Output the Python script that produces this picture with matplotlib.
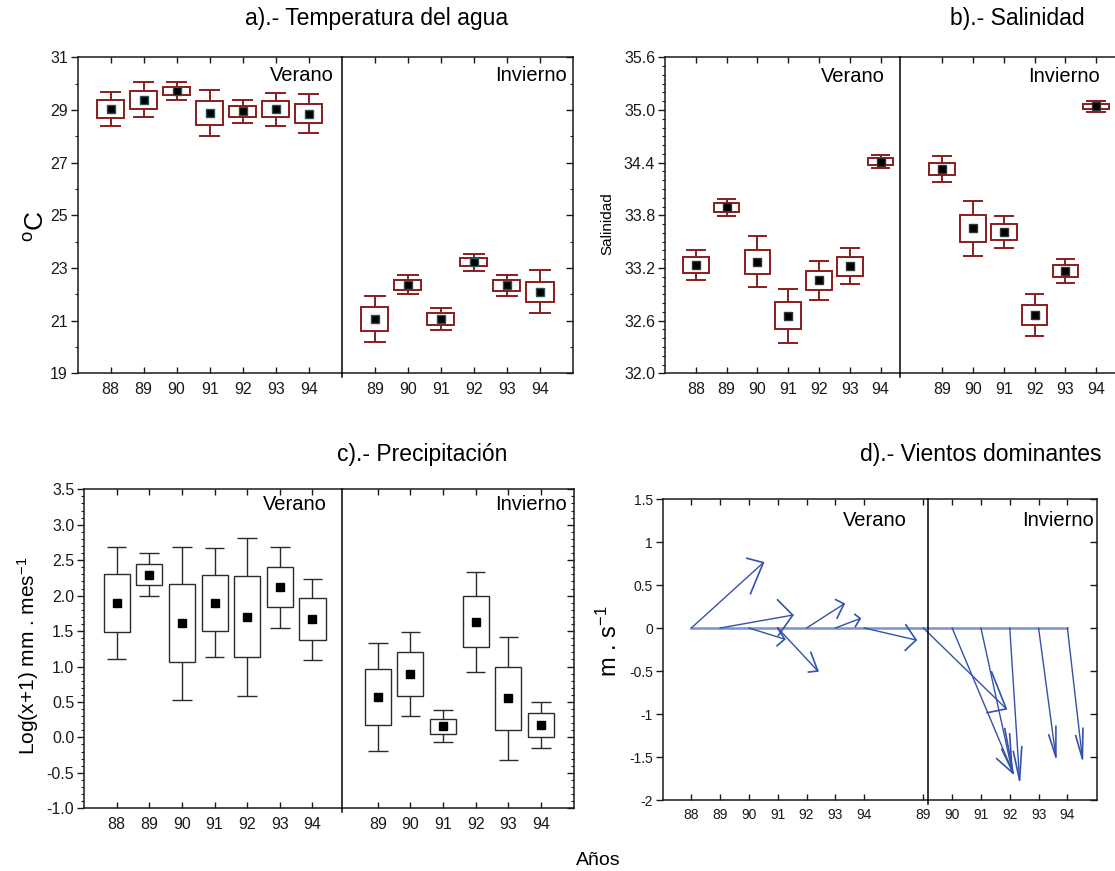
import numpy as np
import matplotlib
matplotlib.use("Agg")
import matplotlib.pyplot as plt

plt.rcParams["font.family"] = ["Liberation Sans", "DejaVu Sans"]
plt.rcParams["mathtext.default"] = "regular"

# ---------------- data ----------------
verano_years = ["88", "89", "90", "91", "92", "93", "94"]
invierno_years = ["89", "90", "91", "92", "93", "94"]

# Water temperature (mean, ±SE box, ±SD whiskers)
temp_ver_mean = [29.04, 29.38, 29.72, 28.89, 28.95, 29.03, 28.86]
temp_ver_se = [0.33, 0.35, 0.15, 0.45, 0.215, 0.30, 0.365]
temp_ver_sd = [0.64, 0.665, 0.33, 0.86, 0.43, 0.62, 0.74]
temp_inv_mean = [21.06, 22.36, 21.07, 23.22, 22.34, 22.10]
temp_inv_se = [0.45, 0.19, 0.22, 0.16, 0.205, 0.385]
temp_inv_sd = [0.875, 0.36, 0.41, 0.325, 0.395, 0.805]

# Salinity
sal_ver_mean = [33.235, 33.89, 33.27, 32.655, 33.06, 33.22, 34.41]
sal_ver_se = [0.09, 0.055, 0.14, 0.155, 0.11, 0.11, 0.04]
sal_ver_sd = [0.175, 0.095, 0.29, 0.305, 0.22, 0.205, 0.075]
sal_inv_mean = [34.33, 33.65, 33.61, 32.665, 33.165, 35.04]
sal_inv_se = [0.07, 0.15, 0.09, 0.11, 0.065, 0.025]
sal_inv_sd = [0.15, 0.31, 0.18, 0.235, 0.14, 0.06]

# Precipitation, log(x+1)
prec_ver_mean = [1.895, 2.295, 1.61, 1.90, 1.70, 2.12, 1.665]
prec_ver_se = [0.405, 0.15, 0.55, 0.395, 0.57, 0.285, 0.295]
prec_ver_sd = [0.795, 0.30, 1.08, 0.77, 1.11, 0.57, 0.575]
prec_inv_mean = [0.57, 0.89, 0.16, 1.63, 0.55, 0.175]
prec_inv_se = [0.39, 0.31, 0.105, 0.36, 0.44, 0.165]
prec_inv_sd = [0.765, 0.595, 0.22, 0.705, 0.865, 0.33]

# Dominant winds: horizontal and vertical vector components
wind_ver_u = [2.50, 2.52, 1.24, 1.39, 1.30, 0.86, 1.80]
wind_ver_v = [0.76, 0.15, -0.13, -0.50, 0.28, 0.11, -0.14]
wind_inv_u = [2.88, 2.12, 1.08, 0.34, 0.60, 0.52]
wind_inv_v = [-0.94, -1.69, -1.66, -1.77, -1.50, -1.52]

# ---------------- figure ----------------
W, H = 1115, 871
fig = plt.figure(figsize=(W / 100, H / 100), dpi=100)

BOX_RED = "#8c1d1d"
BOX_GREY = "#2b2b2b"
ARROW_BLUE = "#3552aa"
BASE_BLUE = "#7a92d2"
SPINE = "#1a1a1a"


def add_axes_px(left, top, right, bottom):
    return fig.add_axes([left / W, 1 - bottom / H, (right - left) / W, (bottom - top) / H])


def draw_boxes(ax, xs, mean, se, sd, color, lw, box_w, cap_w, ms, mec):
    xs = np.asarray(xs, float)
    mean = np.asarray(mean, float)
    se = np.asarray(se, float)
    sd = np.asarray(sd, float)
    ax.vlines(xs, mean + se, mean + sd, color=color, lw=lw, zorder=2)
    ax.vlines(xs, mean - sd, mean - se, color=color, lw=lw, zorder=2)
    ax.hlines(mean + sd, xs - cap_w / 2, xs + cap_w / 2, color=color, lw=lw, zorder=2)
    ax.hlines(mean - sd, xs - cap_w / 2, xs + cap_w / 2, color=color, lw=lw, zorder=2)
    ax.bar(xs, 2 * se, bottom=mean - se, width=box_w, facecolor="white",
           edgecolor=color, linewidth=lw, zorder=3)
    ax.plot(xs, mean, ls="none", marker="s", ms=ms, mfc="black", mec=mec,
            mew=1.0, zorder=4)


def frame(ax, xlim, ylim, yticks, ylabels, yminor, xpos, xlabels, divider,
          fs, ver_x, inv_x, season_y, season_fs):
    ax.set_xlim(*xlim)
    ax.set_ylim(*ylim)
    for s in ax.spines.values():
        s.set_color(SPINE)
        s.set_linewidth(1.1)
    ax.set_xticks(xpos)
    ax.set_xticklabels(xlabels, fontsize=fs)
    ax.tick_params(axis="x", direction="in", top=True, bottom=True, length=4,
                   width=1, pad=6, colors=SPINE)
    ax.set_yticks(yticks)
    ax.set_yticklabels(ylabels, fontsize=fs)
    if yminor is not None:
        ax.set_yticks(yminor, minor=True)
    ax.tick_params(axis="y", which="major", direction="out", length=5, width=1,
                   pad=2, colors=SPINE)
    ax.tick_params(axis="y", which="minor", direction="out", length=2.5, width=0.8,
                   colors=SPINE)
    # inward ticks on the right-hand spine
    tw = ax.twinx()
    tw.set_ylim(*ylim)
    tw.set_yticks(yticks)
    if yminor is not None:
        tw.set_yticks(yminor, minor=True)
    tw.tick_params(axis="y", which="major", direction="in", length=5, width=1,
                   labelright=False, colors=SPINE)
    tw.tick_params(axis="y", which="minor", direction="in", length=2.5, width=0.8,
                   colors=SPINE)
    for s in tw.spines.values():
        s.set_visible(False)
    # season divider
    ax.plot([divider, divider], [-0.012, 1.0], transform=ax.get_xaxis_transform(),
            color="black", lw=1.1, clip_on=False, zorder=5)
    ax.text(ver_x, season_y, "Verano", transform=ax.get_xaxis_transform(),
            ha="right", va="center", fontsize=season_fs)
    ax.text(inv_x, season_y, "Invierno", transform=ax.get_xaxis_transform(),
            ha="right", va="center", fontsize=season_fs)


x_ver = np.arange(1, 8)
x_inv = np.arange(9, 15)
labels_x = verano_years + invierno_years

# ---- a) water temperature ----
axa = add_axes_px(77.5, 57.3, 573, 373.3)
draw_boxes(axa, x_ver, temp_ver_mean, temp_ver_se, temp_ver_sd, BOX_RED, 1.4, 0.82, 0.65, 5.5, "#2d4f4f")
draw_boxes(axa, x_inv, temp_inv_mean, temp_inv_se, temp_inv_sd, BOX_RED, 1.4, 0.82, 0.65, 5.5, "#2d4f4f")
ta = np.arange(19, 32, 2)
frame(axa, (0, 15), (19, 31), ta, [f"{v:d}" for v in ta], np.arange(20, 31, 2),
      np.concatenate([x_ver, x_inv]), labels_x, 8.0, 11.5, 7.76, 14.82, 0.941, 14.5)

# ---- b) salinity ----
axb = add_axes_px(665, 57.3, 1127, 373.3)
draw_boxes(axb, x_ver, sal_ver_mean, sal_ver_se, sal_ver_sd, BOX_RED, 1.4, 0.83, 0.64, 5.5, "#333333")
draw_boxes(axb, x_inv, sal_inv_mean, sal_inv_se, sal_inv_sd, BOX_RED, 1.4, 0.83, 0.64, 5.5, "#333333")
tb = np.round(np.arange(32.0, 35.61, 0.6), 1)
frame(axb, (0, 15), (32.0, 35.6), tb, [f"{v:.1f}" for v in tb],
      np.round(np.arange(32.0, 35.61, 0.1), 1),
      np.concatenate([x_ver, x_inv]), labels_x, 7.63, 11.5, 7.14, 14.12, 0.938, 14.5)

# ---- c) precipitation ----
axc = add_axes_px(84, 489.3, 573.6, 808.3)
draw_boxes(axc, x_ver, prec_ver_mean, prec_ver_se, prec_ver_sd, BOX_GREY, 1.0, 0.80, 0.60, 6, "black")
draw_boxes(axc, x_inv, prec_inv_mean, prec_inv_se, prec_inv_sd, BOX_GREY, 1.0, 0.80, 0.60, 6, "black")
tc = np.round(np.arange(-1.0, 3.51, 0.5), 1)
frame(axc, (0, 15), (-1.0, 3.5), tc, [f"{v:.1f}" for v in tc],
      np.round(np.arange(-1.0, 3.51, 0.1), 1),
      np.concatenate([x_ver, x_inv]), labels_x, 7.9, 11.5, 7.44, 14.8, 0.951, 14.5)

# ---- d) dominant winds ----
axd = add_axes_px(662.5, 499, 1096.8, 800)
x_inv_d = x_inv + 0.05
td = np.round(np.arange(-2.0, 1.51, 0.5), 1)
frame(axd, (0, 15.07), (-2.0, 1.5), td, [f"{v:g}" for v in td], None,
      np.concatenate([x_ver, x_inv_d]), labels_x, 9.22, 10, 8.46, 14.97, 0.930, 14.5)

axd.plot([x_ver[0], x_inv_d[-1]], [0, 0], color=BASE_BLUE, lw=1.8, zorder=1)
head_angle = np.radians(22)
for x0, u, v in zip(np.concatenate([x_ver, x_inv_d]), wind_ver_u + wind_inv_u,
                    wind_ver_v + wind_inv_v):
    tx, ty = x0 + u, v
    axd.plot([x0, tx], [0, ty], color=ARROW_BLUE, lw=1.0, zorder=2)
    h = 0.22 * np.hypot(u, v)
    back = np.arctan2(-v, -u)
    bx = [tx + h * np.cos(back + head_angle), tx, tx + h * np.cos(back - head_angle)]
    by = [ty + h * np.sin(back + head_angle), ty, ty + h * np.sin(back - head_angle)]
    axd.plot(bx, by, color=ARROW_BLUE, lw=1.2, zorder=2)

# ---- axis titles ----
def ylabel_px(x, y, text, fs):
    fig.text(x / W, 1 - y / H, text, rotation=90, ha="center", va="center", fontsize=fs)


ylabel_px(37, 226, "$^{o}$C", 19)
ylabel_px(607, 224, "Salinidad", 11)
ylabel_px(28, 656, "Log(x+1) mm . mes$^{-1}$", 15)
ylabel_px(609, 641, "m . s$^{-1}$", 17)

# ---- panel titles ----
fig.text(508 / W, 1 - 19 / H, "a).- Temperatura del agua", ha="right", va="center", fontsize=16.5)
fig.text(1085 / W, 1 - 19 / H, "b).- Salinidad", ha="right", va="center", fontsize=16.5)
fig.text(507 / W, 1 - 455 / H, "c).- Precipitación", ha="right", va="center", fontsize=16.5)
fig.text(1101 / W, 1 - 455 / H, "d).- Vientos dominantes", ha="right", va="center", fontsize=16.5)
fig.text(598 / W, 1 - 860 / H, "Años", ha="center", va="center", fontsize=14)

fig.savefig("out.png", dpi=100, facecolor="white")
